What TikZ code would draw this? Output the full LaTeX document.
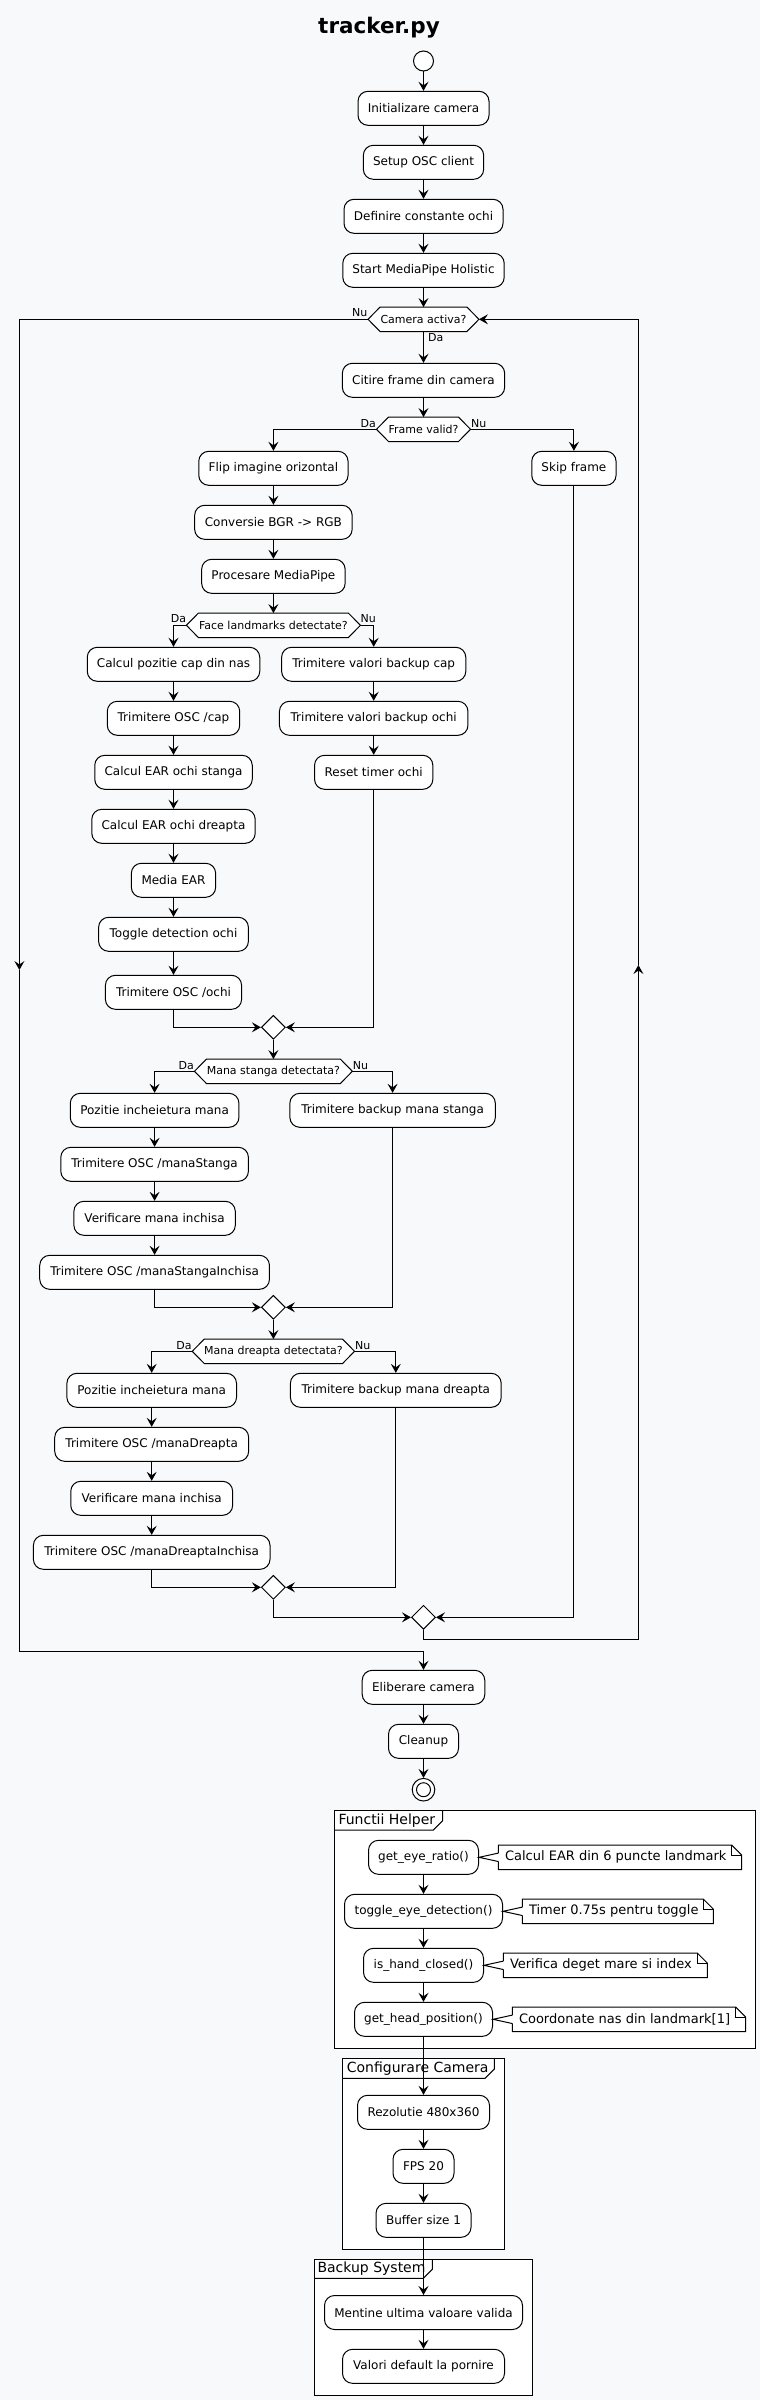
\documentclass[tikz,border=0pt]{standalone}
\usepackage{fontspec}
\setmainfont{DejaVu Sans}
\usetikzlibrary{arrows.meta,shapes.geometric}
\definecolor{bgc}{RGB}{248,249,250}
\newcommand\myfs[1]{\fontsize{#1bp}{#1bp}\selectfont}
\newcommand\hexnode[5]{%
  \node[hexin, minimum width=#4bp] (#1) at (#2,#3) {};
  \draw[ln, fill=white] (#1.west) -- ([xshift=12bp]#1.north west) -- ([xshift=-12bp]#1.north east)
     -- (#1.east) -- ([xshift=-12bp]#1.south east) -- ([xshift=12bp]#1.south west) -- cycle;
  \node[font=\myfs{11}, inner sep=0pt] (#1t) at (#1) {#5};
}
% name, x1, x2, cy, text, target
\newcommand\notenode[6]{%
  \draw[ln, fill=white] (#2,#4-12.3) -- (#3-10,#4-12.3) -- (#3,#4-2.3) -- (#3,#4+12.3) -- (#2,#4+12.3) -- cycle;
  \draw[ln] (#3-10,#4-12.3) -- (#3-10,#4-2.3) -- (#3,#4-2.3);
  \fill[white] (#2+0.8,#4-4.2) -- (#6.east) -- (#2+0.8,#4+4.2) -- cycle;
  \fill[white] (#2-0.8,#4-3.7) rectangle (#2+0.8,#4+3.7);
  \draw[ln] (#2,#4-4.2) -- (#6.east) -- (#2,#4+4.2);
  \node[font=\myfs{13}, inner sep=0pt, anchor=west] (#1) at (#2+6.5,#4) {#5};
}
\begin{document}
\begin{tikzpicture}[x=1bp,y=-1bp,
  ln/.style={line width=1bp, draw=black},
  act/.style={draw, line width=1bp, fill=white, rounded corners=10bp, minimum height=34bp, inner sep=0pt, font=\myfs{12}},
  hexin/.style={minimum height=24bp, inner sep=0pt},
  diam/.style={diamond, draw, line width=1bp, fill=white, minimum width=24bp, minimum height=24bp, inner sep=0pt},
  arr/.style={line width=1bp, -{Stealth[length=9bp,width=10bp,inset=3.5bp]}},
  plain/.style={line width=1bp},
  lbl/.style={font=\myfs{11}, inner sep=0pt},
  frm/.style={line width=1bp, draw=black, fill=white},
  frlbl/.style={font=\myfs{14}, inner sep=0pt, anchor=west}
  ]
\useasboundingbox (0,0) rectangle (760,2400);
\fill[bgc] (0,0) rectangle (760,2400);

\node[font=\bfseries\myfs{21.5}] (title) at (379,28) {tracker.py};

% ---------- frames ----------
\draw[frm] (334.3,1810.3) rectangle (755.3,2048.3);
\draw[ln] (334.3,1830) -- (433.3,1830) -- (442.7,1820.6) -- (442.7,1810.3);
\node[frlbl] (fh) at (338.3,1820.2) {Functii Helper};

\draw[frm] (342.3,2058.3) rectangle (504.3,2249.3);
\draw[ln] (342.3,2078.3) -- (485,2078.3) -- (494.3,2069) -- (494.3,2058.3);
\node[frlbl] (fc) at (346.7,2068.2) {Configurare Camera};

\draw[frm] (314.3,2259.3) rectangle (532.3,2395.3);
\draw[ln] (314.3,2278.3) -- (423.3,2278.3) -- (432.3,2269.3) -- (432.3,2259.3);
\node[frlbl] (fb) at (317.3,2268.8) {Backup System};

% ---------- main flow ----------
\node[circle, draw, line width=1bp, fill=white, minimum size=20bp, inner sep=0pt] (start) at (423.5,61) {};
\node[act, minimum width=131bp] (init) at (423.5,108.3) {Initializare camera};
\node[act, minimum width=120.3bp] (setup) at (423.5,162.3) {Setup OSC client};
\node[act, minimum width=159bp] (defc) at (423.5,216.3) {Definire constante ochi};
\node[act, minimum width=161.4bp] (startmp) at (423.5,270.3) {Start MediaPipe Holistic};
\hexnode{camhex}{423.5}{319.3}{110.5}{Camera activa?}
\node[act, minimum width=162.3bp] (citire) at (423.5,380.3) {Citire frame din camera};
\hexnode{framehex}{423.5}{429.3}{93.6}{Frame valid?}
\node[act, minimum width=149.3bp] (flip) at (273.4,468.3) {Flip imagine orizontal};
\node[act, minimum width=84.3bp] (skip) at (573.9,468.3) {Skip frame};
\node[act, minimum width=157.5bp] (conv) at (273.4,522.3) {Conversie BGR -> RGB};
\node[act, minimum width=143.5bp] (proc) at (273.4,576.3) {Procesare MediaPipe};
\hexnode{facehex}{273.4}{625.3}{173.6}{Face landmarks detectate?}
\node[act, minimum width=172.5bp] (calcpoz) at (173.5,664.3) {Calcul pozitie cap din nas};
\node[act, minimum width=184.2bp] (bcap) at (373.7,664.3) {Trimitere valori backup cap};
\node[act, minimum width=132.4bp] (osccap) at (173.5,718.3) {Trimitere OSC /cap};
\node[act, minimum width=188.5bp] (bochi) at (373.7,718.3) {Trimitere valori backup ochi};
\node[act, minimum width=157.5bp] (earst) at (173.5,772.3) {Calcul EAR ochi stanga};
\node[act, minimum width=118.3bp] (reset) at (373.7,772.3) {Reset timer ochi};
\node[act, minimum width=163.4bp] (eardr) at (173.5,826.3) {Calcul EAR ochi dreapta};
\node[act, minimum width=84.3bp] (media) at (173.5,880.3) {Media EAR};
\node[act, minimum width=149.8bp] (toggle) at (173.5,934.3) {Toggle detection ochi};
\node[act, minimum width=136.2bp] (oscochi) at (173.5,992.3) {Trimitere OSC /ochi};
\node[diam] (m1) at (273.4,1027.3) {};
\hexnode{mshex}{273.4}{1071.3}{157.5}{Mana stanga detectata?}
\node[act, minimum width=168.7bp] (poz1) at (154.6,1110.3) {Pozitie incheietura mana};
\node[act, minimum width=205.5bp] (bms) at (392.6,1110.3) {Trimitere backup mana stanga};
\node[act, minimum width=187.6bp] (oscms) at (154.6,1164.3) {Trimitere OSC /manaStanga};
\node[act, minimum width=161.4bp] (ver1) at (154.6,1218.3) {Verificare mana inchisa};
\node[act, minimum width=229.7bp] (oscmsi) at (154.6,1272.3) {Trimitere OSC /manaStangaInchisa};
\node[diam] (m2) at (273.4,1307.3) {};
\hexnode{mdhex}{273.4}{1351.3}{161.9}{Mana dreapta detectata?}
\node[act, minimum width=169.6bp] (poz2) at (151.7,1390.3) {Pozitie incheietura mana};
\node[act, minimum width=210.8bp] (bmd) at (395.8,1390.3) {Trimitere backup mana dreapta};
\node[act, minimum width=193.9bp] (oscmd) at (151.7,1444.3) {Trimitere OSC /manaDreapta};
\node[act, minimum width=161.9bp] (ver2) at (151.7,1498.3) {Verificare mana inchisa};
\node[act, minimum width=236.6bp] (oscmdi) at (151.7,1552.3) {Trimitere OSC /manaDreaptaInchisa};
\node[diam] (m3) at (273.4,1587.3) {};
\node[diam] (m4) at (423.5,1617.3) {};
\node[act, minimum width=122.6bp] (elib) at (423.5,1687.3) {Eliberare camera};
\node[act, minimum width=70bp] (clean) at (423.5,1741.3) {Cleanup};
\node[circle, draw, line width=1bp, fill=white, minimum size=22.6bp, inner sep=0pt] (stop) at (423.5,1789.7) {};
\node[circle, draw, line width=1bp, minimum size=14bp, inner sep=0pt] (stopin) at (423.5,1789.7) {};

% ---------- helper boxes ----------
\node[act, minimum width=110bp] (gey) at (423.5,1857.3) {get\_eye\_ratio()};
\node[act, minimum width=158bp] (tog) at (423.5,1911.3) {toggle\_eye\_detection()};
\node[act, minimum width=120bp] (ihc) at (423.5,1965.3) {is\_hand\_closed()};
\node[act, minimum width=138bp] (ghp) at (423.5,2019.3) {get\_head\_position()};
\notenode{n1}{498.3}{741.7}{1857.3}{Calcul EAR din 6 puncte landmark}{gey}
\notenode{n2}{522.3}{713.3}{1911.3}{Timer 0.75s pentru toggle}{tog}
\notenode{n3}{503.3}{707.3}{1965.3}{Verifica deget mare si index}{ihc}
\notenode{n4}{512.3}{745.7}{2019.3}{Coordonate nas din landmark[1]}{ghp}
\node[act, minimum width=132bp] (rez) at (423.5,2112.3) {Rezolutie 480x360};
\node[act, minimum width=61bp] (fps) at (423.5,2166.3) {FPS 20};
\node[act, minimum width=95bp] (buf) at (423.5,2220.3) {Buffer size 1};
\node[act, minimum width=198bp] (ment) at (423.5,2312.5) {Mentine ultima valoare valida};
\node[act, minimum width=162bp] (valdef) at (423.5,2366.3) {Valori default la pornire};

% ---------- connectors ----------
\draw[arr] (start) -- (init);
\draw[arr] (init) -- (setup);
\draw[arr] (setup) -- (defc);
\draw[arr] (defc) -- (startmp);
\draw[arr] (startmp.south) -- (camhex.north);
\draw[arr] (camhex.south) -- (citire.north);
\node[lbl, anchor=west] (lda0) at (428,338) {Da};
\node[lbl, anchor=east] (lnu0) at (367.5,312.5) {Nu};
\draw[arr] (citire.south) -- (framehex.north);
\draw[arr] (framehex.west) -| (flip.north);
\draw[arr] (framehex.east) -| (skip.north);
\node[lbl, anchor=east] (lda1) at (376,423.3) {Da};
\node[lbl, anchor=west] (lnu1) at (471,423.3) {Nu};
\draw[arr] (flip) -- (conv);
\draw[arr] (conv) -- (proc);
\draw[arr] (proc.south) -- (facehex.north);
\draw[arr] (facehex.west) -| (calcpoz.north);
\draw[arr] (facehex.east) -| (bcap.north);
\node[lbl, anchor=east] (lda2) at (186.4,618.3) {Da};
\node[lbl, anchor=west] (lnu2) at (360.5,618.3) {Nu};
\draw[arr] (calcpoz) -- (osccap);
\draw[arr] (osccap) -- (earst);
\draw[arr] (earst) -- (eardr);
\draw[arr] (eardr) -- (media);
\draw[arr] (media) -- (toggle);
\draw[arr] (toggle) -- (oscochi);
\draw[arr] (bcap) -- (bochi);
\draw[arr] (bochi) -- (reset);
\draw[arr] (oscochi.south) |- (m1.west);
\draw[arr] (reset.south) |- (m1.east);
\draw[arr] (m1.south) -- (mshex.north);
\draw[arr] (mshex.west) -| (poz1.north);
\draw[arr] (mshex.east) -| (bms.north);
\node[lbl, anchor=east] (lda3) at (194,1065.3) {Da};
\node[lbl, anchor=west] (lnu3) at (352.6,1065.3) {Nu};
\draw[arr] (poz1) -- (oscms);
\draw[arr] (oscms) -- (ver1);
\draw[arr] (ver1) -- (oscmsi);
\draw[arr] (oscmsi.south) |- (m2.west);
\draw[arr] (bms.south) |- (m2.east);
\draw[arr] (m2.south) -- (mdhex.north);
\draw[arr] (mdhex.west) -| (poz2.north);
\draw[arr] (mdhex.east) -| (bmd.north);
\node[lbl, anchor=east] (lda4) at (191.8,1345.3) {Da};
\node[lbl, anchor=west] (lnu4) at (355,1345.3) {Nu};
\draw[arr] (poz2) -- (oscmd);
\draw[arr] (oscmd) -- (ver2);
\draw[arr] (ver2) -- (oscmdi);
\draw[arr] (oscmdi.south) |- (m3.west);
\draw[arr] (bmd.south) |- (m3.east);
\draw[arr] (m3.south) |- (m4.west);
\draw[arr] (skip.south) |- (m4.east);

% loop back (right)
\coordinate (lpR1) at (638.4,1639);
\coordinate (lpR2) at (638.4,965);
\coordinate (lpR3) at (638.4,319.3);
\draw[arr] (m4.south) |- (lpR1) -- (lpR2);
\draw[arr] (lpR2) -- (lpR3) -- (camhex.east);
% loop exit (left)
\coordinate (lpL1) at (19.4,319.3);
\coordinate (lpL2) at (19.4,970);
\coordinate (lpL3) at (19.4,1651);
\draw[arr] (camhex.west) -- (lpL1) -- (lpL2);
\draw[arr] (lpL2) -- (lpL3) -| (elib.north);

\draw[arr] (elib) -- (clean);
\draw[arr] (clean) -- (stop);

\draw[arr] (gey) -- (tog);
\draw[arr] (tog) -- (ihc);
\draw[arr] (ihc) -- (ghp);
\draw[arr] (ghp) -- (rez);
\draw[arr] (rez) -- (fps);
\draw[arr] (fps) -- (buf);
\draw[arr] (buf) -- (ment);
\draw[arr] (ment) -- (valdef);
\end{tikzpicture}
\end{document}
